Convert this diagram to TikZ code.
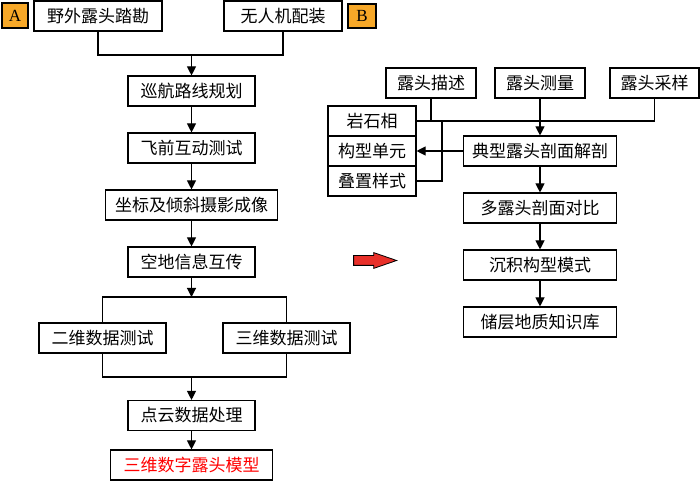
\documentclass[tikz,border=0pt]{standalone}
\usepackage{fontspec}
\setmainfont{Liberation Serif}
\newfontfamily\cjk{Noto Sans CJK SC}
\usetikzlibrary{arrows.meta,shapes.arrows,positioning}
\definecolor{tagorange}{RGB}{247,168,40}
\definecolor{arrowred}{RGB}{232,48,42}

\begin{document}
\begin{tikzpicture}[
        x=1pt, y=1pt,
        node distance=57pt,
        >={Triangle[length=9pt,width=9pt]},
        line width=1.1pt,
        every node/.style={
            rectangle,
            draw,
            minimum height=30pt,
            inner sep=2pt,
            font=\cjk\fontsize{17}{19}\selectfont
        },
        tag/.style={
            fill=tagorange,
            minimum width=26pt,
            minimum height=25pt,
            font=\rmfamily\fontsize{17}{19}\selectfont
        }
    ]
        \useasboundingbox (0,0) rectangle (700,481);

        % Left column (A)
        \node (a) [tag] at (15,465.5) {A};
        \node (field) [minimum width=128pt] at (98,465) {野外露头踏勘};
        \node (uav) [minimum width=118pt] at (283,465) {无人机配装};
        \node (b) [tag, minimum width=28pt, minimum height=24pt] at (362,465) {B};
        \node (cruise) [minimum width=127pt] at (191.5,390) {巡航路线规划};
        \node (prefly) [below of=cruise, minimum width=127pt] {飞前互动测试};
        \node (photo) [below of=prefly, minimum width=172pt] {坐标及倾斜摄影成像};
        \node (trans) [below of=photo, minimum width=127pt] {空地信息互传};
        \node (d2) [minimum width=127pt] at (102.5,143) {二维数据测试};
        \node (d3) [minimum width=127pt] at (286.5,143) {三维数据测试};
        \node (cloud) [minimum width=127pt] at (191.5,65.5) {点云数据处理};
        \node (model) [node distance=49.5pt, below of=cloud, minimum width=162pt, text=red] {三维数字露头模型};

        % Right column (B)
        \node (desc) [minimum width=90pt] at (431,398) {露头描述};
        \node (meas) [minimum width=90pt] at (540,398) {露头测量};
        \node (samp) [minimum width=89pt] at (654.5,398) {露头采样};
        \node (litho) [minimum width=88pt] at (372,360) {岩石相};
        \node (unit) [node distance=30pt, below of=litho, minimum width=88pt] {构型单元};
        \node (stack) [node distance=30pt, below of=unit, minimum width=88pt] {叠置样式};
        \node (anat) [minimum width=153pt] at (540,330) {典型露头剖面解剖};
        \node (multi) [below of=anat, minimum width=153pt] {多露头剖面对比};
        \node (sed) [below of=multi, minimum width=153pt] {沉积构型模式};
        \node (kb) [below of=sed, minimum width=153pt] {储层地质知识库};

        % Red arrow between the two parts
        \node (go) [single arrow, fill=arrowred, line width=0.8pt,
            minimum width=15pt, minimum height=43pt, inner xsep=0pt, inner ysep=4.5pt,
            single arrow head extend=3pt, single arrow tip angle=38] at (368,220.5) {};

        % Edges (left)
        \coordinate (top join) at (191.5,426);
        \coordinate (split) at (191.5,184);
        \coordinate (merge) at (191.5,104);
        \draw (field.south) |- (top join) -| (uav.south);
        \draw[->] (top join) -- (cruise);
        \draw[->] (cruise) -- (prefly);
        \draw[->] (prefly) -- (photo);
        \draw[->] (photo) -- (trans);
        \draw[->] (trans) -- (split);
        \draw (d2.north) |- (split) -| (d3.north);
        \draw (d2.south) |- (merge) -| (d3.south);
        \draw[->] (merge) -- (cloud);
        \draw[->] (cloud) -- (model);

        % Edges (right)
        \coordinate (fork) at (442,360);
        \draw (litho.east) -| (samp.south);
        \draw (desc.south) -- (desc.south |- litho.east);
        \draw[->] (meas) -- (anat);
        \draw (fork) |- (stack.east);
        \draw[->] (anat) -- (unit);
        \draw[->] (anat) -- (multi);
        \draw[->] (multi) -- (sed);
        \draw[->] (sed) -- (kb);
    \end{tikzpicture}
\end{document}
